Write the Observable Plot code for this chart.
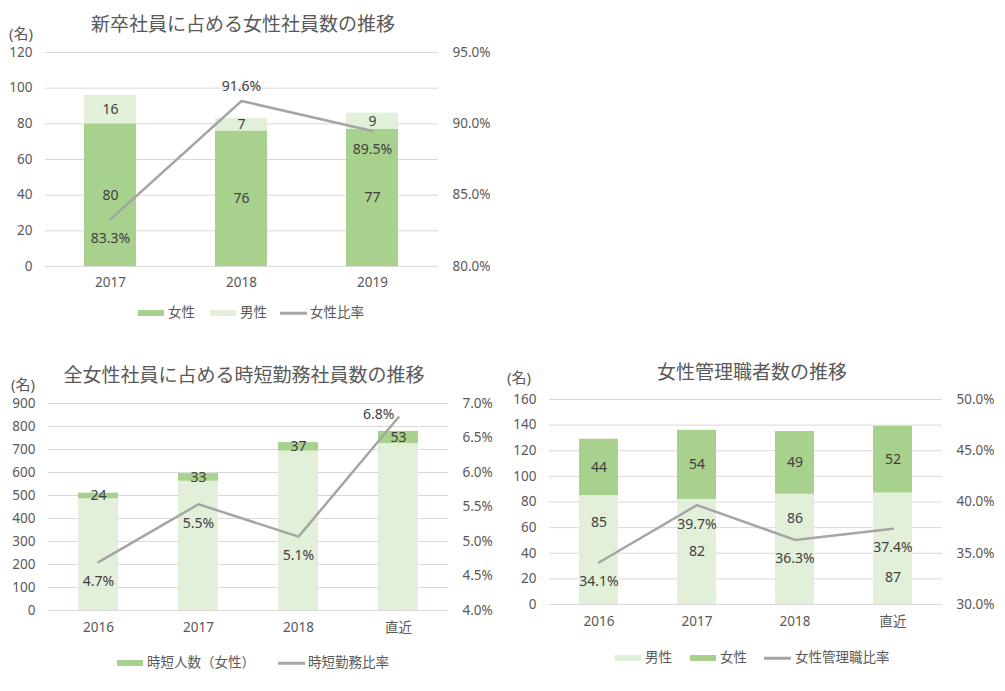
<!DOCTYPE html>
<html><head><meta charset="utf-8">
<script src="https://cdn.jsdelivr.net/npm/d3@7"></script>
<script src="https://cdn.jsdelivr.net/npm/@observablehq/plot@0.6"></script>
<style>
body{margin:0;background:#fff;font-family:"Noto Sans","Noto Sans CJK JP",sans-serif;}
#root{position:relative;width:1005px;height:691px;overflow:hidden;background:#fff}
.abs{position:absolute;white-space:nowrap;line-height:1;color:#595959}
.title{font-size:19px;transform:translate(-50%,-50%)}
.unit{font-size:15px;transform:translateY(-50%)}
.ltext{font-size:13.5px;transform:translateY(-50%)}
.sw{position:absolute;height:6px;width:26px;transform:translateY(-50%)}
.ln{position:absolute;height:2.5px;width:27px;background:#a5a5a5;transform:translateY(-50%)}
svg{position:absolute}
</style>
</head><body><div id="root"></div>
<script>
// ---- data ----
const years1 = ["2017", "2018", "2019"];
const female1 = [80, 76, 77];
const male1 = [16, 7, 9];
const ratio1 = [83.3, 91.6, 89.5];

const years2 = ["2016", "2017", "2018", "直近"];
const others2 = [486, 562, 693, 726];   // 時短以外の女性社員
const short2 = [24, 33, 37, 53];        // 時短人数（女性）
const ratio2 = [4.7, 5.54, 5.07, 6.8];

const years3 = ["2016", "2017", "2018", "直近"];
const male3 = [85, 82, 86, 87];
const female3 = [44, 54, 49, 52];
const ratio3 = [34.1, 39.7, 36.3, 37.4];

const DARK = "#a9d18e", LIGHT = "#e2f0d9", LINE = "#a5a5a5";
const root = document.getElementById("root");

function chart(cfg) {
  const {cats, stacks, ratio, yMax, yTicks, pMin, pMax, pTicks, left, top, W, H, m, pctPlace, xPad} = cfg;
  const toLeft = p => (p - pMin) / (pMax - pMin) * yMax;
  const fromLeft = v => pMin + v / yMax * (pMax - pMin);
  const rows = [];
  cats.forEach((c, i) => {
    let base = 0;
    stacks.forEach(s => {
      const v = s.values[i];
      rows.push({cat: c, series: s.name, value: v, y1: base, y2: base + v,
        show: s.show !== false, ly: s.labelAt ? s.labelAt[i] : base + v / 2});
      base += v;
    });
  });
  const pts = cats.map((c, i) => ({cat: c, p: ratio[i], place: pctPlace[i]}));
  const lab = {fill: "#404040", fontSize: 14};
  const svg = Plot.plot({
    width: W, height: H,
    marginLeft: m[0], marginRight: m[1], marginTop: m[2], marginBottom: m[3],
    style: {fontFamily: '"Noto Sans","Noto Sans CJK JP",sans-serif', fontSize: "13.5px", color: "#595959", background: "transparent"},
    x: {type: "band", domain: cats, paddingInner: 0.6, paddingOuter: 0.3},
    y: {domain: [0, yMax]},
    color: {domain: stacks.map(s => s.name), range: stacks.map(s => s.color)},
    marks: [
      Plot.ruleY(yTicks, {stroke: "#d9d9d9", strokeWidth: 1}),
      Plot.barY(rows, {x: "cat", y1: "y1", y2: "y2", fill: "series"}),
      Plot.line(pts, {x: "cat", y: d => toLeft(d.p), stroke: LINE, strokeWidth: 2.5}),
      Plot.text(rows.filter(r => r.show), {x: "cat", y: "ly", text: d => String(d.value), ...lab}),
      Plot.text(pts.filter(d => d.place === "below"), {x: "cat", y: d => toLeft(d.p), text: d => d.p.toFixed(1) + "%", dy: 19, ...lab}),
      Plot.text(pts.filter(d => d.place === "above"), {x: "cat", y: d => toLeft(d.p), text: d => d.p.toFixed(1) + "%", dy: -14, ...lab}),
      Plot.text(pts.filter(d => d.place === "left"), {x: "cat", y: d => toLeft(d.p), text: d => d.p.toFixed(1) + "%", dx: -4, dy: -3, textAnchor: "end", ...lab}),
      Plot.axisY({anchor: "left", ticks: yTicks, tickSize: 0, tickPadding: 13, label: null}),
      Plot.axisY({anchor: "right", ticks: pTicks.map(toLeft), tickSize: 0, tickPadding: 14, label: null,
        tickFormat: v => fromLeft(v).toFixed(1) + "%", textAnchor: "start"}),
      Plot.axisX({tickSize: 0, tickPadding: xPad, label: null})
    ]
  });
  svg.style.left = left + "px";
  svg.style.top = top + "px";
  root.appendChild(svg);
}

function text(cls, str, x, y) {
  const e = document.createElement("div");
  e.className = "abs " + cls; e.textContent = str;
  e.style.left = x + "px"; e.style.top = y + "px";
  root.appendChild(e);
}
function swatch(x, y, color) {
  const e = document.createElement("div");
  e.className = "sw"; e.style.left = x + "px"; e.style.top = y + "px"; e.style.background = color;
  root.appendChild(e);
}
function lineSw(x, y) {
  const e = document.createElement("div");
  e.className = "ln"; e.style.left = x + "px"; e.style.top = y + "px";
  root.appendChild(e);
}

// Chart 1
chart({
  cats: years1,
  stacks: [{name: "女性", values: female1, color: DARK}, {name: "男性", values: male1, color: LIGHT}],
  ratio: ratio1, yMax: 120, yTicks: [0, 20, 40, 60, 80, 100, 120],
  pMin: 80, pMax: 95, pTicks: [80, 85, 90, 95],
  left: 0, top: 0, W: 500, H: 300, m: [45, 62, 52, 34], xPad: 11,
  pctPlace: ["below", "above", "below"]
});
text("title", "新卒社員に占める女性社員数の推移", 243, 24);
text("unit", "(名)", 9, 33);
swatch(138, 313, DARK); text("ltext", "女性", 168, 313);
swatch(210, 313, LIGHT); text("ltext", "男性", 240, 313);
lineSw(280, 313); text("ltext", "女性比率", 310, 313);

// Chart 2
chart({
  cats: years2,
  stacks: [{name: "その他", values: others2, color: LIGHT, show: false}, {name: "時短人数（女性）", values: short2, color: DARK}],
  ratio: ratio2, yMax: 900, yTicks: [0, 100, 200, 300, 400, 500, 600, 700, 800, 900],
  pMin: 4, pMax: 7, pTicks: [4, 4.5, 5, 5.5, 6, 6.5, 7],
  left: 0, top: 360, W: 500, H: 300, m: [48, 52, 43, 50], xPad: 12,
  pctPlace: ["below", "below", "below", "left"]
});
text("title", "全女性社員に占める時短勤務社員数の推移", 244, 375);
text("unit", "(名)", 11, 384);
swatch(117, 663, DARK); text("ltext", "時短人数（女性）", 147, 663);
lineSw(278, 663); text("ltext", "時短勤務比率", 308, 663);

// Chart 3
const maleLabelAt3 = [64, 41, 67, 21];
chart({
  cats: years3,
  stacks: [{name: "男性", values: male3, color: LIGHT, labelAt: maleLabelAt3}, {name: "女性", values: female3, color: DARK}],
  ratio: ratio3, yMax: 160, yTicks: [0, 20, 40, 60, 80, 100, 120, 140, 160],
  pMin: 30, pMax: 50, pTicks: [30, 35, 40, 45, 50],
  left: 500, top: 360, W: 505, H: 300, m: [49, 63, 39, 56], xPad: 12,
  pctPlace: ["below", "below", "below", "below"]
});
text("title", "女性管理職者数の推移", 752, 372);
text("unit", "(名)", 507, 377);
swatch(615, 658, LIGHT); text("ltext", "男性", 645, 658);
swatch(690, 658, DARK); text("ltext", "女性", 720, 658);
lineSw(764, 658); text("ltext", "女性管理職比率", 795, 658);
</script>
</body></html>
